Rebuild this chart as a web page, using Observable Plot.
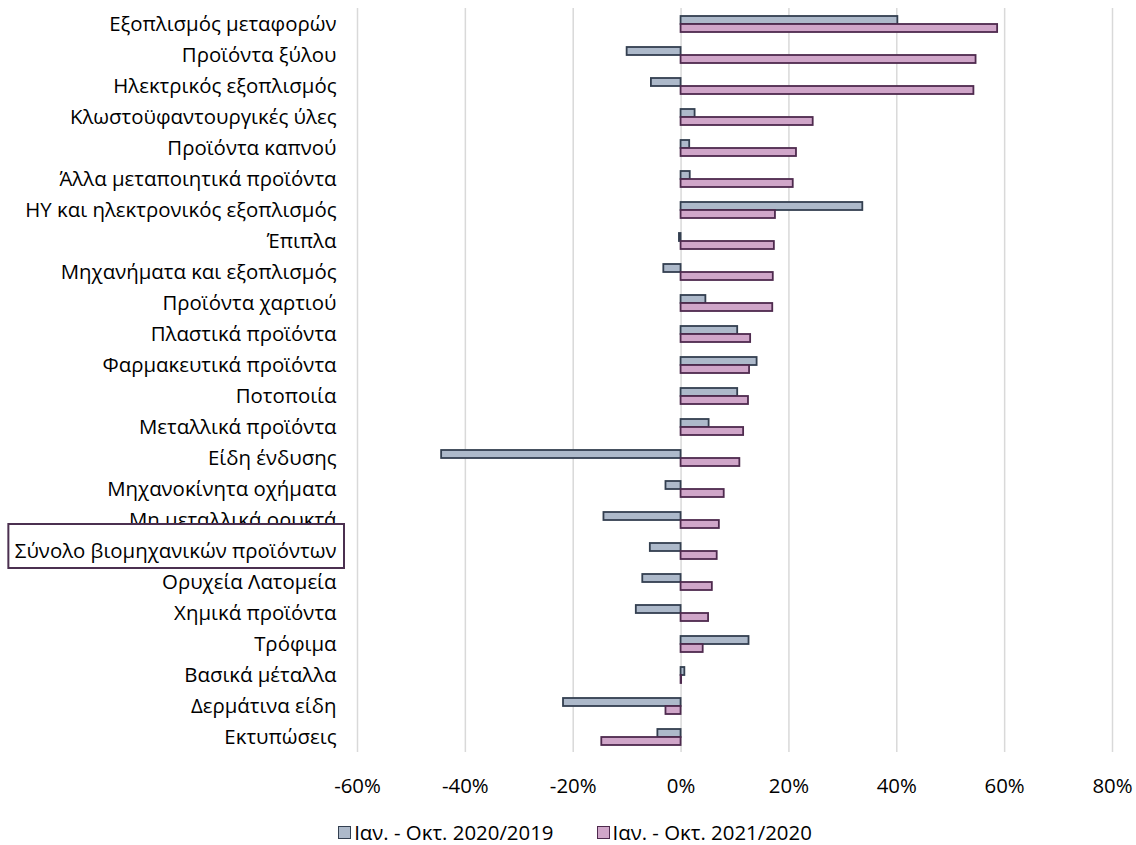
<!DOCTYPE html>
<html>
<head>
<meta charset="utf-8">
<script src="https://cdn.jsdelivr.net/npm/d3@7"></script>
<script src="https://cdn.jsdelivr.net/npm/@observablehq/plot@0.6"></script>
<style>
  html, body { margin: 0; padding: 0; background: #fff; }
  #legend { display: flex; justify-content: center; align-items: center; gap: 43px; padding-left: 14px; line-height: 20px; color: #000; }
  .item { display: flex; align-items: center; }
  .sw { width: 11px; height: 11px; margin-right: 3px; box-sizing: content-box; }
</style>
</head>
<body>
<div id="chart"></div>
<script>
const categories = [
  "Εξοπλισμός μεταφορών",
  "Προϊόντα ξύλου",
  "Ηλεκτρικός εξοπλισμός",
  "Κλωστοϋφαντουργικές ύλες",
  "Προϊόντα καπνού",
  "Άλλα μεταποιητικά προϊόντα",
  "ΗΥ και ηλεκτρονικός εξοπλισμός",
  "Έπιπλα",
  "Μηχανήματα και εξοπλισμός",
  "Προϊόντα χαρτιού",
  "Πλαστικά προϊόντα",
  "Φαρμακευτικά προϊόντα",
  "Ποτοποιία",
  "Μεταλλικά προϊόντα",
  "Είδη ένδυσης",
  "Μηχανοκίνητα οχήματα",
  "Μη μεταλλικά ορυκτά",
  "Σύνολο βιομηχανικών προϊόντων",
  "Ορυχεία Λατομεία",
  "Χημικά προϊόντα",
  "Τρόφιμα",
  "Βασικά μέταλλα",
  "Δερμάτινα είδη",
  "Εκτυπώσεις"
];
const seriesNames = ["Ιαν. - Οκτ. 2020/2019", "Ιαν. - Οκτ. 2021/2020"];
const values2020 = [40.2, -10.0, -5.5, 2.6, 1.6, 1.7, 33.7, -0.3, -3.2, 4.6, 10.5, 14.1, 10.5, 5.2, -44.4, -2.8, -14.3, -5.7, -7.1, -8.3, 12.6, 0.7, -21.8, -4.3];
const values2021 = [58.7, 54.7, 54.3, 24.5, 21.4, 20.8, 17.5, 17.3, 17.1, 17.0, 12.9, 12.7, 12.5, 11.6, 10.9, 8.0, 7.1, 6.7, 5.8, 5.1, 4.1, 0.1, -2.8, -14.7];
const xTicks = [-60, -40, -20, 0, 20, 40, 60, 80];
const highlighted = "Σύνολο βιομηχανικών προϊόντων";

const fills = ["#adb9ca", "#d0a6c9"];
const strokes = ["#333f50", "#4e2a4e"];
const FONT = '"Open Sans", sans-serif';

// font size chosen so that the longest label has the reference width
const ctx = document.createElement("canvas").getContext("2d");
ctx.font = '100px "Open Sans"';
const fs = Math.round(321 / ctx.measureText(highlighted).width * 100 * 10) / 10;

const data1 = categories.map((c, i) => ({cat: c, series: seriesNames[0], value: values2020[i]}));
const data2 = categories.map((c, i) => ({cat: c, series: seriesNames[1], value: values2021[i]}));

const chart = Plot.plot({
  width: 1136,
  height: 804,
  marginLeft: 357,
  marginRight: 24,
  marginTop: 5,
  marginBottom: 50,
  style: {fontFamily: FONT, fontSize: fs + "px", color: "#000", background: "#fff"},
  x: {domain: [-60, 80]},
  fy: {domain: categories, padding: 0},
  y: {domain: seriesNames, paddingInner: 0, paddingOuter: 0.79, axis: null},
  marks: [
    Plot.gridX(xTicks, {stroke: "#d9d9d9", strokeOpacity: 1, strokeWidth: 1.5}),
    Plot.barX(data1, {fy: "cat", y: "series", x: "value", fill: fills[0], stroke: strokes[0], strokeWidth: 1.8}),
    Plot.barX(data2, {fy: "cat", y: "series", x: "value", fill: fills[1], stroke: strokes[1], strokeWidth: 1.8}),
    Plot.axisX({ticks: xTicks, tickFormat: d => d + "%", tickSize: 0, tickPadding: 26, fontSize: fs, label: null}),
    Plot.axisFy({anchor: "left", tickSize: 0, tickPadding: 21, fontSize: fs, label: null})
  ]
});
document.getElementById("chart").appendChild(chart);

// highlight box around the total label
const svgEl = chart.tagName.toLowerCase() === "svg" ? chart : chart.querySelector("svg");
const fyScale = chart.scale("fy");
const texts = Array.from(svgEl.querySelectorAll("text")).filter(t => t.textContent === highlighted);
if (texts.length) {
  const t = texts[0];
  const sr = svgEl.getBoundingClientRect();
  const r = t.getBoundingClientRect();
  const cy = fyScale.apply(highlighted) + fyScale.bandwidth / 2;
  const x0 = r.left - sr.left - 6.5, x1 = r.right - sr.left + 7.5;
  const y0 = cy - 26.5, y1 = cy + 17.5;
  const parent = t.parentNode;
  const inv = parent.getCTM().inverse();
  const p0 = new DOMPoint(x0, y0).matrixTransform(inv);
  const p1 = new DOMPoint(x1, y1).matrixTransform(inv);
  const rect = document.createElementNS("http://www.w3.org/2000/svg", "rect");
  rect.setAttribute("x", p0.x); rect.setAttribute("y", p0.y);
  rect.setAttribute("width", p1.x - p0.x); rect.setAttribute("height", p1.y - p0.y);
  rect.setAttribute("fill", "#fff"); rect.setAttribute("stroke", "#4b3050"); rect.setAttribute("stroke-width", 2);
  parent.insertBefore(rect, t);
}

// legend
const legend = document.createElement("div");
legend.id = "legend";
legend.style.fontFamily = FONT;
legend.style.fontSize = fs + "px";
legend.style.marginTop = "18px";
seriesNames.forEach((s, i) => {
  const item = document.createElement("div");
  item.className = "item";
  const sw = document.createElement("span");
  sw.className = "sw";
  sw.style.background = fills[i];
  sw.style.border = "1.5px solid " + strokes[i];
  const lab = document.createElement("span");
  lab.textContent = s;
  item.appendChild(sw); item.appendChild(lab);
  legend.appendChild(item);
});
document.body.appendChild(legend);
</script>
</body>
</html>
